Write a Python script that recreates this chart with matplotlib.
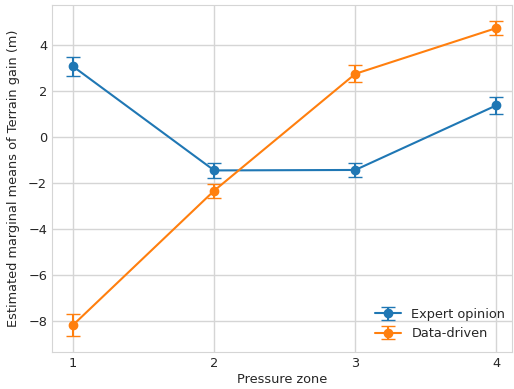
import numpy as np
import matplotlib
matplotlib.use('Agg')
import matplotlib.pyplot as plt
import seaborn as sns

sns.set_style('whitegrid')
plt.rcParams['font.family'] = ['DejaVu Sans']

zones = [1, 2, 3, 4]
expert_mean = [3.07, -1.45, -1.43, 1.38]
expert_err = [0.41, 0.33, 0.32, 0.38]
data_mean = [-8.17, -2.33, 2.75, 4.74]
data_err = [0.47, 0.30, 0.37, 0.32]

fig = plt.figure(figsize=(5.14, 3.89), dpi=100)
ax = fig.add_axes([0.101, 0.096, 0.895, 0.891])

ax.errorbar(zones, expert_mean, yerr=expert_err, marker='o', capsize=5,
            color='#1f77b4', label='Expert opinion')
ax.errorbar(zones, data_mean, yerr=data_err, marker='o', capsize=5,
            color='#ff7f0e', label='Data-driven')

ax.set_xlim(0.85, 4.11)
ax.set_ylim(-9.33, 5.74)
ax.set_xticks(zones)
ax.set_yticks([-8, -6, -4, -2, 0, 2, 4])
ax.grid(True, color='#d5d5d5', linewidth=1.0)
for s in ax.spines.values():
    s.set_color('#d5d5d5')
ax.tick_params(labelsize=9.3, length=0, pad=3.5, colors='#262626')
ax.set_xlabel('Pressure zone', fontsize=9.3, labelpad=2.5, color='#262626')
ax.set_ylabel('Estimated marginal means of Terrain gain (m)', fontsize=9.3,
              labelpad=6, color='#262626')
ax.legend(loc='lower right', bbox_to_anchor=(1.011, 0), fontsize=9.3,
          frameon=False)

fig.savefig('out.png', dpi=100)
